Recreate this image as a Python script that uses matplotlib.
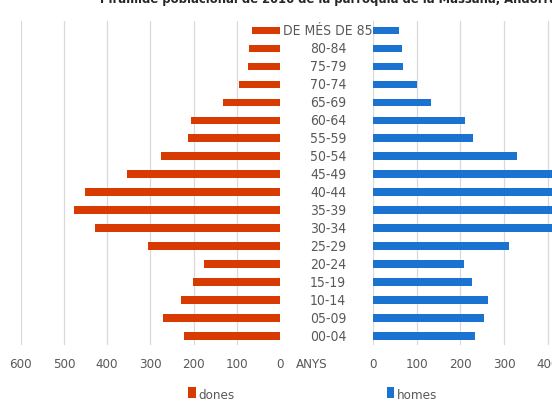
# population pyramid, parroquia de la Massana 2016
import matplotlib.pyplot as plt
from matplotlib.ticker import FuncFormatter

plt.rcParams['font.family'] = ['DejaVu Sans']
plt.rcParams['font.stretch'] = 'condensed'

groups = ["00-04", "05-09", "10-14", "15-19", "20-24", "25-29", "30-34",
          "35-39", "40-44", "45-49", "50-54", "55-59", "60-64", "65-69",
          "70-74", "75-79", "80-84", "DE MÉS DE 85"]
dones = [223, 270, 230, 202, 175, 305, 428, 477, 451, 354, 275, 212, 206,
         131, 96, 75, 72, 64]
homes = [234, 253, 264, 226, 209, 311, 455, 480, 470, 425, 329, 229, 210,
         132, 100, 69, 68, 61]

red = "#D83B01"
blue = "#1A73D1"
grey = "#595959"
grid = "#D9D9D9"

fig = plt.figure(figsize=(5.52, 4.02), dpi=100)

bot = 1 - 346 / 402
h = 323.6 / 402
ax1 = fig.add_axes([20.7 / 552, bot, 259.3 / 552, h])
ax2 = fig.add_axes([372.7 / 552, bot, 262.8 / 552, h])

y = range(len(groups))
ax1.barh(y, dones, height=0.42, color=red)
ax2.barh(y, homes, height=0.42, color=blue)

ax1.set_xlim(600, 0)
ax2.set_xlim(0, 600)
for ax in (ax1, ax2):
    ax.set_ylim(-0.5, len(groups) - 0.5)
    ax.set_yticks([])
    ax.set_xticks(range(0, 601, 100))
    ax.xaxis.grid(True, color=grid, linewidth=0.9)
    ax.set_axisbelow(True)
    for s in ax.spines.values():
        s.set_visible(False)
    ax.tick_params(axis='x', length=0, pad=9, labelsize=9.5, labelcolor=grey)
    ax.xaxis.set_major_formatter(FuncFormatter(lambda v, p: f"{abs(int(v))}"))

# age group labels in the middle
for i, g in enumerate(groups):
    fig.text(328 / 552, bot + (i + 0.5) / len(groups) * h, g, ha='center',
             va='center', fontsize=10, color=grey)
fig.text(312 / 552, 1 - 365 / 402, "ANYS", ha='center', va='center',
         fontsize=9.5, color=grey)

# legends
ax1.legend(["dones"], loc='center', bbox_to_anchor=(211 / 552, 1 - 395 / 402),
           bbox_transform=fig.transFigure, frameon=False, fontsize=9.5,
           handlelength=0.6, handleheight=0.9, handletextpad=0.2,
           labelcolor=grey)
ax2.legend(["homes"], loc='center', bbox_to_anchor=(412 / 552, 1 - 395 / 402),
           bbox_transform=fig.transFigure, frameon=False, fontsize=9.5,
           handlelength=0.6, handleheight=0.9, handletextpad=0.2,
           labelcolor=grey)

# title, cut off by the top edge as in the source image
fig.text(100 / 552, 1 - 3.5 / 402,
         "Piràmide poblacional de 2016 de la parròquia de la Massana, Andorra",
         ha='left', va='baseline', fontsize=9.3, fontweight='bold', color="#262626")

fig.savefig("out.png", dpi=100)
